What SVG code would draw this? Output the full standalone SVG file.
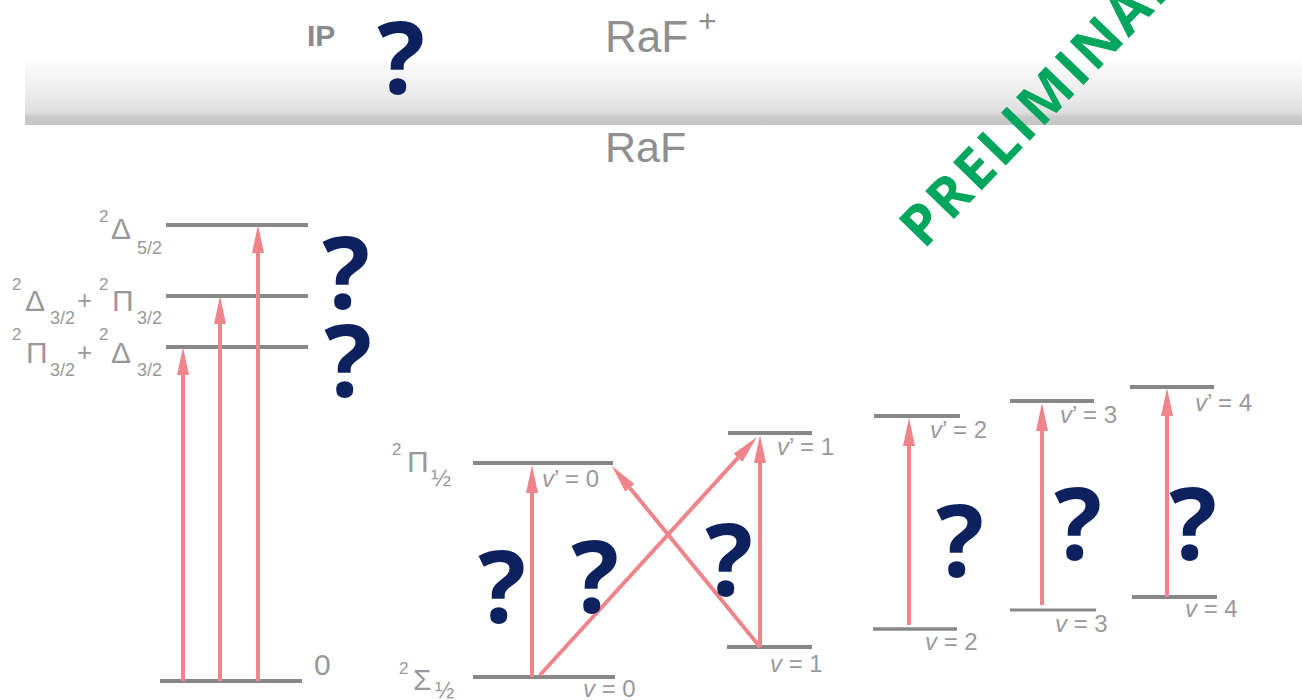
<svg xmlns="http://www.w3.org/2000/svg" width="1302" height="700" viewBox="0 0 1302 700">
<defs>
<linearGradient id="band" x1="0" y1="0" x2="0" y2="1">
<stop offset="0" stop-color="#fbfbfb"/>
<stop offset="0.55" stop-color="#ebebeb"/>
<stop offset="0.8" stop-color="#dedede"/>
<stop offset="0.88" stop-color="#c9c9c9"/>
<stop offset="1" stop-color="#c6c6c6"/>
</linearGradient>
<marker id="ah" markerUnits="userSpaceOnUse" markerWidth="28" markerHeight="12" refX="0" refY="6" orient="auto" overflow="visible">
<path d="M0,0 L28,6 L0,12 Z" fill="#f0848b"/>
</marker>
<style>
.lvl{stroke:#878787;stroke-width:4;fill:none}
.arr{stroke:#f0848b;stroke-width:4;fill:none;marker-end:url(#ah)}
.lab{font-family:"Liberation Sans",Arial,sans-serif;fill:#999999}
.big{font-size:30px}
.sup{font-size:17px}
.sub{font-size:18px}
.v{font-family:"Liberation Sans",Arial,sans-serif;fill:#9a9a9a;font-size:24px}
.q{font-family:"Open Sans",sans-serif;font-weight:700;font-size:100px;fill:#0d215e;text-anchor:middle}
.raf{font-family:"Liberation Sans",Arial,sans-serif;fill:#8f8f8f}
</style>
</defs>
<rect width="1302" height="700" fill="#ffffff"/>
<g id="band-ion">
<rect x="25" y="62" width="1277" height="63" fill="url(#band)"/>
</g>
<g id="labels-top">
<text x="307" y="46" font-family="Liberation Sans,Arial,sans-serif" font-weight="700" font-size="30" fill="#8a8a8a">IP</text>
<text class="raf" x="605" y="52" font-size="44">RaF</text>
<text class="raf" x="698" y="32" font-size="32">+</text>
<text class="raf" x="605" y="162" font-size="43">RaF</text>
</g>
<g id="levels">
<line class="lvl" x1="166" y1="225" x2="308" y2="225"/>
<line class="lvl" x1="166" y1="296" x2="308" y2="296"/>
<line class="lvl" x1="166" y1="347" x2="308" y2="347"/>
<line class="lvl" x1="160" y1="681" x2="302" y2="681"/>
<line class="lvl" x1="473" y1="463" x2="613" y2="463"/>
<line class="lvl" x1="473" y1="677" x2="615" y2="677"/>
<line class="lvl" x1="728" y1="433" x2="812" y2="433"/>
<line class="lvl" x1="727" y1="647" x2="812" y2="647"/>
<line class="lvl" x1="874" y1="416" x2="960" y2="416"/>
<line class="lvl" x1="873" y1="629" x2="957" y2="629" style="stroke-width:3.5"/>
<line class="lvl" x1="1010" y1="401" x2="1094" y2="401"/>
<line class="lvl" x1="1010" y1="610" x2="1096" y2="610" style="stroke-width:3"/>
<line class="lvl" x1="1130" y1="387" x2="1214" y2="387"/>
<line class="lvl" x1="1132" y1="597" x2="1217" y2="597"/>
</g>
<g id="connectors">
<line class="arr" x1="183" y1="681" x2="183" y2="375"/>
<line class="arr" x1="220" y1="681" x2="220" y2="324"/>
<line class="arr" x1="258" y1="681" x2="258" y2="253"/>
<line class="arr" x1="532" y1="677" x2="532" y2="493"/>
<line class="arr" x1="540" y1="675" x2="738.1" y2="457.7"/>
<line class="arr" x1="760" y1="647" x2="629.7" y2="487.7"/>
<line class="arr" x1="760" y1="647" x2="760" y2="463"/>
<line class="arr" x1="909" y1="625" x2="909" y2="446"/>
<line class="arr" x1="1042" y1="605" x2="1042" y2="431"/>
<line class="arr" x1="1167" y1="597" x2="1167" y2="416"/>
</g>
<g id="state-D52" class="lab">
<text class="sup" x="99" y="222">2</text>
<text class="big" x="111" y="239">Δ</text>
<text class="sub" x="137" y="254">5/2</text>
</g>
<g id="state-D32P32" class="lab">
<text class="sup" x="12" y="290">2</text>
<text class="big" x="25" y="311">Δ</text>
<text class="sub" x="50" y="324">3/2</text>
<text x="77" y="309" font-size="26">+</text>
<text class="sup" x="99" y="290">2</text>
<text class="big" x="112" y="311">Π</text>
<text class="sub" x="137" y="324">3/2</text>
</g>
<g id="state-P32D32" class="lab">
<text class="sup" x="12" y="340">2</text>
<text class="big" x="26" y="363">Π</text>
<text class="sub" x="50" y="376">3/2</text>
<text x="77" y="361" font-size="26">+</text>
<text class="sup" x="99" y="340">2</text>
<text class="big" x="111" y="363">Δ</text>
<text class="sub" x="137" y="376">3/2</text>
</g>
<g id="state-ground" class="lab">
<text x="314" y="675" font-size="30">0</text>
</g>
<g id="state-P12" class="lab">
<text class="sup" x="392" y="455">2</text>
<text class="big" x="407" y="472">Π</text>
<text x="431" y="486" font-size="24">½</text>
</g>
<g id="state-S12" class="lab">
<text class="sup" x="399" y="674">2</text>
<text class="big" x="413" y="690">Σ</text>
<text x="435" y="698" font-size="23">½</text>
</g>
<g id="vib-labels">
<text class="v" x="542" y="487"><tspan font-style="italic">v</tspan>’ = 0</text>
<text class="v" x="583" y="697"><tspan font-style="italic">v</tspan> = 0</text>
<text class="v" x="777" y="455"><tspan font-style="italic">v</tspan>’ = 1</text>
<text class="v" x="770" y="672"><tspan font-style="italic">v</tspan> = 1</text>
<text class="v" x="930" y="438"><tspan font-style="italic">v</tspan>’ = 2</text>
<text class="v" x="925" y="650"><tspan font-style="italic">v</tspan> = 2</text>
<text class="v" x="1060" y="423"><tspan font-style="italic">v</tspan>’ = 3</text>
<text class="v" x="1055" y="632"><tspan font-style="italic">v</tspan> = 3</text>
<text class="v" x="1195" y="411"><tspan font-style="italic">v</tspan>’ = 4</text>
<text class="v" x="1185" y="617"><tspan font-style="italic">v</tspan> = 4</text>
</g>
<g id="questions">
<text class="q" x="401" y="94">?</text>
<text class="q" x="346" y="309">?</text>
<text class="q" x="348" y="397">?</text>
<text class="q" x="502" y="623">?</text>
<text class="q" x="595" y="613">?</text>
<text class="q" x="729" y="596">?</text>
<text class="q" x="960" y="577">?</text>
<text class="q" x="1078" y="560">?</text>
<text class="q" x="1193" y="560">?</text>
</g>
<g id="watermark">
<text transform="translate(924,250) rotate(-46)" font-family="Open Sans,sans-serif" font-weight="700" font-size="56" letter-spacing="3" fill="#00a65d">PRELIMINARY</text>
</g>
</svg>
